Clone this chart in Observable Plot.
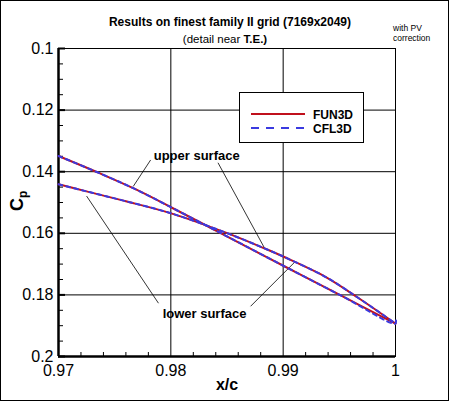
<!DOCTYPE html>
<html>
<head>
<meta charset="utf-8">
<script src="https://cdn.jsdelivr.net/npm/d3@7"></script>
<script src="https://cdn.jsdelivr.net/npm/@observablehq/plot@0.6"></script>
<style>
  html, body { margin: 0; padding: 0; background: #fff; }
  #wrap { position: relative; width: 450px; height: 401px; overflow: hidden; }
  #border { position: absolute; left: 0; top: 0; width: 449px; height: 401px; box-sizing: border-box; border: 1.3px solid #000; pointer-events: none; }
  #legend { position: absolute; left: 239px; top: 92px; width: 125px; height: 51px; box-sizing: border-box; border: 1px solid #000; background: #fff; font-family: "Liberation Sans", Arial, sans-serif; font-weight: bold; font-size: 12px; }
  #legend svg { position: absolute; left: 0; top: 0; }
</style>
</head>
<body>
<div id="wrap">
  <div id="chart"></div>
  <div id="legend"></div>
  <div id="border"></div>
</div>
<script>
// ---- data ----
const fun3dUpperX = [0.970, 0.9736, 0.9768, 0.9801, 0.9849, 0.9901, 0.9953, 1.000];
const fun3dUpperCp = [0.1349, 0.1404, 0.1456, 0.1517, 0.1608, 0.1707, 0.1805, 0.1893];
const fun3dLowerX = [0.970, 0.9724, 0.9759, 0.9801, 0.9849, 0.9884, 0.9901, 0.9938, 0.9967, 1.000];
const fun3dLowerCp = [0.1441, 0.1463, 0.1495, 0.1536, 0.1598, 0.1650, 0.1677, 0.1742, 0.1810, 0.1893];
const cfl3dUpperX = [0.970, 0.9736, 0.9768, 0.9801, 0.9849, 0.9901, 0.9953, 1.000, 1.000];
const cfl3dUpperCp = [0.1349, 0.1404, 0.1456, 0.1517, 0.1608, 0.1707, 0.1805, 0.1893, 0.1874];
const cfl3dLowerX = [0.970, 0.9724, 0.9759, 0.9801, 0.9849, 0.9884, 0.9901, 0.9938, 0.9967, 1.000];
const cfl3dLowerCp = [0.1441, 0.1463, 0.1495, 0.1536, 0.1598, 0.1650, 0.1677, 0.1742, 0.1810, 0.1893];

const xTicks = [0.97, 0.98, 0.99, 1];
const xTickLabels = ["0.97", "0.98", "0.99", "1"];
const yTicks = [0.1, 0.12, 0.14, 0.16, 0.18, 0.2];
const yTickLabels = ["0.1", "0.12", "0.14", "0.16", "0.18", "0.2"];
const xMinor = [0.972, 0.974, 0.976, 0.978, 0.982, 0.984, 0.986, 0.988, 0.992, 0.994, 0.996, 0.998];
const yMinor = [0.105, 0.11, 0.115, 0.125, 0.13, 0.135, 0.145, 0.15, 0.155, 0.165, 0.17, 0.175, 0.185, 0.19, 0.195];

const labelText = ["upper surface", "lower surface"];
const labelX = [0.9823, 0.9830];
const labelCp = [0.1349, 0.1860];
// leader lines: from label to curve
const leaderX1 = [0.9782, 0.9842, 0.9725, 0.9871];
const leaderCp1 = [0.1362, 0.1371, 0.1479, 0.1837];
const leaderX2 = [0.97665, 0.9884, 0.9789, 0.9911];
const leaderCp2 = [0.1448, 0.1652, 0.1827, 0.1691];

const seriesNames = ["FUN3D", "CFL3D"];
const seriesColors = ["#c0101c", "#3a3ae0"];

// ---- build tables ----
const toRows = (xs, ys) => xs.map((x, i) => ({x, cp: ys[i]}));
const fU = toRows(fun3dUpperX, fun3dUpperCp);
const fL = toRows(fun3dLowerX, fun3dLowerCp);
const cU = toRows(cfl3dUpperX, cfl3dUpperCp);
const cL = toRows(cfl3dLowerX, cfl3dLowerCp);
const labels = labelText.map((t, i) => ({t, x: labelX[i], cp: labelCp[i]}));
const leaders = leaderX1.map((x1, i) => ({x1, y1: leaderCp1[i], x2: leaderX2[i], y2: leaderCp2[i]}));

const W = 450, H = 401, mL = 58, mR = 55, mT = 48, mB = 45;
const innerW = W - mL - mR, innerH = H - mT - mB;

const fmtX = d => xTickLabels[xTicks.indexOf(d)];
const fmtY = d => yTickLabels[yTicks.indexOf(d)];

const lineOpts = (color, dash) => ({x: "x", y: "cp", stroke: color, strokeWidth: 2, curve: "catmull-rom", strokeDasharray: dash});

const chart = Plot.plot({
  width: W, height: H,
  marginLeft: mL, marginRight: mR, marginTop: mT, marginBottom: mB,
  style: {fontFamily: "'Liberation Sans', Arial, sans-serif", background: "transparent", color: "#000"},
  x: {domain: [0.97, 1]},
  y: {domain: [0.1, 0.2], reverse: true},
  marks: [
    Plot.gridX({ticks: xTicks.slice(1, -1), stroke: "#000", strokeOpacity: 1, strokeWidth: 1}),
    Plot.gridY({ticks: yTicks.slice(1, -1), stroke: "#000", strokeOpacity: 1, strokeWidth: 1}),
    Plot.ruleX(xMinor, {stroke: "#000", strokeWidth: 1, insetTop: innerH - 4}),
    Plot.ruleY(yMinor, {stroke: "#000", strokeWidth: 1, insetRight: innerW - 5}),
    Plot.ruleY(yTicks, {stroke: "#000", strokeWidth: 2, insetRight: innerW - 7}),
    Plot.frame({stroke: "#000", strokeWidth: 1}),
    Plot.ruleX([0.97], {stroke: "#000", strokeWidth: 2.5}),
    Plot.ruleY([0.2], {stroke: "#000", strokeWidth: 2.5}),
    Plot.axisX({ticks: xTicks, tickFormat: fmtX, tickSize: 0, tickPadding: 8, fontSize: 16, label: null}),
    Plot.axisY({ticks: yTicks, tickFormat: fmtY, tickSize: 0, tickPadding: 5, fontSize: 16, label: null}),
    Plot.link(leaders, {x1: "x1", y1: "y1", x2: "x2", y2: "y2", stroke: "#000", strokeWidth: 0.8}),
    Plot.line(fU, lineOpts(seriesColors[0], null)),
    Plot.line(fL, lineOpts(seriesColors[0], null)),
    Plot.line(cU, lineOpts(seriesColors[1], "4,4")),
    Plot.line(cL, lineOpts(seriesColors[1], "4,4")),
    Plot.text(labels, {x: "x", y: "cp", text: "t", fontWeight: "bold", fontSize: 13, fill: "#000"})
  ]
});
document.getElementById("chart").appendChild(chart);

// ---- titles and axis labels ----
const svg = d3.select(chart);
const ff = "'Liberation Sans', Arial, sans-serif";
svg.append("text").attr("x", 230).attr("y", 26).attr("text-anchor", "middle")
  .attr("font-family", ff).attr("font-size", 12).attr("font-weight", "bold")
  .text("Results on finest family II grid (7169x2049)");
const t2 = svg.append("text").attr("x", 225).attr("y", 43).attr("text-anchor", "middle")
  .attr("font-family", ff).attr("font-size", 11.5);
t2.append("tspan").text("(detail near ");
t2.append("tspan").attr("font-weight", "bold").text("T.E.)");
svg.append("text").attr("x", 393).attr("y", 31).attr("text-anchor", "start").attr("font-family", ff).attr("font-size", 8.5).text("with PV");
svg.append("text").attr("x", 393).attr("y", 40.5).attr("text-anchor", "start").attr("font-family", ff).attr("font-size", 8.5).text("correction");
svg.append("text").attr("x", 227).attr("y", 390).attr("text-anchor", "middle")
  .attr("font-family", ff).attr("font-size", 16).attr("font-weight", "bold").text("x/c");
const cp = svg.append("text").attr("transform", "translate(23,211) rotate(-90)").attr("text-anchor", "start")
  .attr("font-family", ff).attr("font-weight", "bold");
cp.append("tspan").attr("font-size", 18).text("C");
cp.append("tspan").attr("font-size", 12).attr("dy", 4).text("p");

// ---- legend ----
const lg = d3.select("#legend").append("svg").attr("width", 125).attr("height", 51);
seriesNames.forEach((name, i) => {
  const y = 21 + i * 14;
  lg.append("line").attr("x1", 11).attr("x2", 65).attr("y1", y).attr("y2", y)
    .attr("stroke", seriesColors[i]).attr("stroke-width", 2)
    .attr("stroke-dasharray", i === 1 ? "8,7" : null);
  lg.append("text").attr("x", 73).attr("y", y + 4.5).attr("font-family", ff)
    .attr("font-weight", "bold").attr("font-size", 12).text(name);
});
</script>
</body>
</html>
